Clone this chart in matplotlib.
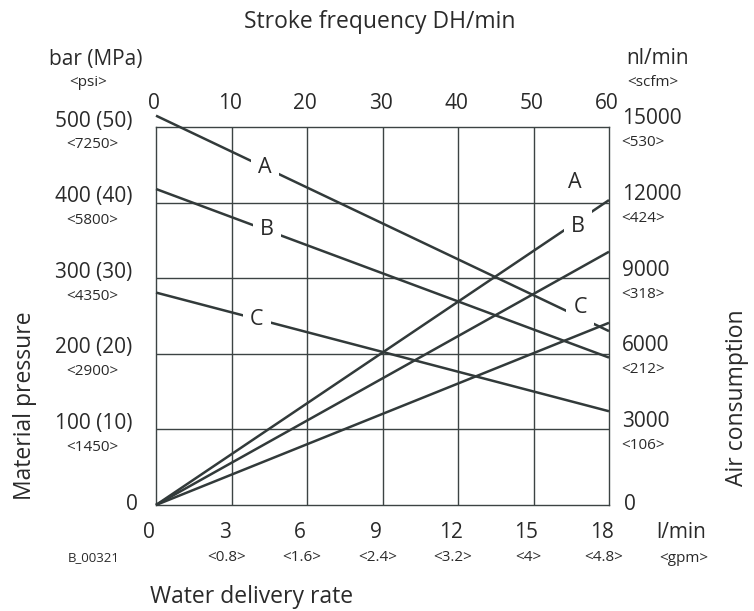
import matplotlib
matplotlib.use('Agg')
import matplotlib.pyplot as plt
from matplotlib.transforms import offset_copy

plt.rcParams['font.family'] = ['Open Sans', 'DejaVu Sans']

# axis ticks and labels
flow_ticks = [0, 3, 6, 9, 12, 15, 18]          # l/min
gpm_labels = ['', '<0.8>', '<1.6>', '<2.4>', '<3.2>', '<4>', '<4.8>']
stroke_ticks = [0, 10, 20, 30, 40, 50, 60]      # DH/min
pressure_ticks = [100, 200, 300, 400, 500]      # bar
pressure_labels = ['100 (10)', '200 (20)', '300 (30)', '400 (40)', '500 (50)']
psi_labels = ['<1450>', '<2900>', '<4350>', '<5800>', '<7250>']
air_ticks = [3000, 6000, 9000, 12000, 15000]    # nl/min
scfm_labels = ['<106>', '<212>', '<318>', '<424>', '<530>']

# curves, read at 0 and 18 l/min
flow_ends = [0, 18]
pressure_A = [515, 230]
pressure_B = [418, 195]
pressure_C = [281, 124]
air_A = [0, 12100]
air_B = [0, 10050]
air_C = [0, 7230]

W, H = 754, 611
ink = '#2a2a2a'
line_col = '#323a3a'
grid_col = '#3c4343'


def px(x, y):
    return x / W, 1 - y / H


fig = plt.figure(figsize=(W / 100, H / 100), dpi=100)
ax = fig.add_axes([156 / W, 1 - 505 / H, 453 / W, 378 / H])
ax.set_xlim(0, 18)
ax.set_ylim(0, 500)
ax.set_xticks([])
ax.set_yticks([])
for s in ax.spines.values():
    s.set_color(grid_col)
    s.set_linewidth(1.0)

for x in flow_ticks[1:-1]:
    ax.axvline(x, color=grid_col, lw=1.0, zorder=1)
for y in pressure_ticks[:-1]:
    ax.axhline(y, color=grid_col, lw=1.0, zorder=1)

ax2 = ax.twinx()
ax2.set_ylim(0, 15000)
ax2.set_yticks([])
for s in ax2.spines.values():
    s.set_visible(False)

# material pressure (falling) and air consumption (rising)
for p in (pressure_A, pressure_B, pressure_C):
    ax.plot(flow_ends, p, color=line_col, lw=1.8, clip_on=False,
            solid_capstyle='butt', zorder=3)
for a in (air_A, air_B, air_C):
    ax2.plot(flow_ends, a, color=line_col, lw=1.8, clip_on=False,
             solid_capstyle='butt', zorder=3)

# curve labels (white box breaks the line)
box = dict(facecolor='white', edgecolor='none', pad=5)
for lbl, (x, y) in [('A', (4.33, 447)), ('B', (4.41, 364)), ('C', (4.01, 246)),
                    ('A', (16.65, 426)), ('B', (16.77, 368)), ('C', (16.85, 261))]:
    ax2.text(x, y, lbl, transform=ax.transData, ha='center', va='center',
             fontsize=15.5, color=ink, bbox=box, zorder=5)

# left axis labels
ytr = ax.get_yaxis_transform()
for v, m, s in zip(pressure_ticks, pressure_labels, psi_labels):
    ax.text(-0.137, v, m, transform=offset_copy(ytr, fig, y=6, units='dots'),
            ha='center', va='center', fontsize=15, color=ink)
    ax.text(-0.141, v, s, transform=offset_copy(ytr, fig, y=-18, units='dots'),
            ha='center', va='center', fontsize=11, color=ink)
ax.text(-0.053, 0, '0', transform=ytr, ha='center', va='center',
        fontsize=15, color=ink)

# right axis labels
ytr2 = ax2.get_yaxis_transform()
for v, s in zip(air_ticks, scfm_labels):
    ax2.text(1.029, v, str(v), transform=offset_copy(ytr2, fig, y=8, units='dots'),
             ha='left', va='center', fontsize=15, color=ink)
    ax2.text(1.027, v, s, transform=offset_copy(ytr2, fig, y=-16, units='dots'),
             ha='left', va='center', fontsize=11, color=ink)
ax2.text(1.046, 0, '0', transform=ytr2, ha='center', va='center',
         fontsize=15, color=ink)

# bottom axis labels
xtr = ax.get_xaxis_transform()
for v, g in zip(flow_ticks, gpm_labels):
    ax.text(v, -0.074, str(v), transform=offset_copy(xtr, fig, x=-7, units='dots'),
            ha='center', va='center', fontsize=15, color=ink)
    if g:
        ax.text(v, -0.140, g, transform=offset_copy(xtr, fig, x=-5, units='dots'),
                ha='center', va='center', fontsize=11, color=ink)

# top axis labels (stroke frequency)
for s in stroke_ticks:
    ax.text(s * 18 / 60, 1.061, str(s),
            transform=offset_copy(xtr, fig, x=-2, units='dots'),
            ha='center', va='center', fontsize=15, color=ink)

# titles and units
fig.text(*px(380, 22), 'Stroke frequency DH/min', ha='center', va='center',
         fontsize=16.5, color=ink)
fig.text(*px(96, 59), 'bar (MPa)', ha='center', va='center', fontsize=15, color=ink)
fig.text(*px(88, 83), '<psi>', ha='center', va='center', fontsize=11, color=ink)
fig.text(*px(658, 58), 'nl/min', ha='center', va='center', fontsize=15, color=ink)
fig.text(*px(653, 82), '<scfm>', ha='center', va='center', fontsize=11, color=ink)
fig.text(*px(681, 533), 'l/min', ha='center', va='center', fontsize=15, color=ink)
fig.text(*px(684, 558), '<gpm>', ha='center', va='center', fontsize=11, color=ink)
fig.text(*px(94, 558), 'B_00321', ha='center', va='center', fontsize=9.5, color=ink)
fig.text(*px(252, 597), 'Water delivery rate', ha='center', va='center',
         fontsize=16.5, color=ink)
fig.text(*px(25, 406), 'Material pressure', ha='center', va='center',
         rotation=90, fontsize=16.5, color=ink)
fig.text(*px(737, 398), 'Air consumption', ha='center', va='center',
         rotation=90, fontsize=16.5, color=ink)

fig.savefig('out.png', dpi=100)
